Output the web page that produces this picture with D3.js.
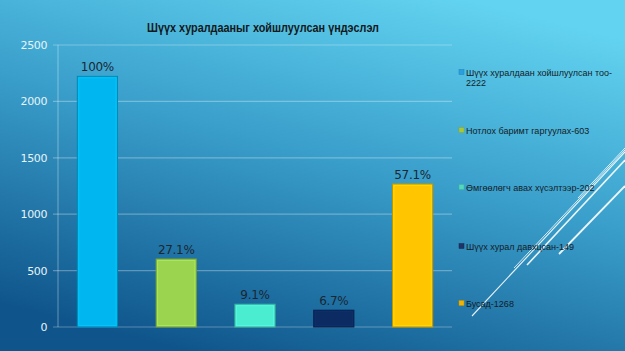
<!DOCTYPE html>
<html>
<head>
<meta charset="utf-8">
<script src="https://cdn.jsdelivr.net/npm/d3@7"></script>
<style>
  body { margin: 0; padding: 0; overflow: hidden; }
</style>
</head>
<body>
<div id="chart"></div>
<script>
var categories = ["Шүүх хуралдаан хойшлуулсан тоо", "Нотлох баримт гаргуулах", "Өмгөөлөгч авах хүсэлтээр", "Шүүх хурал давхцсан", "Бусад"];
var values = [2222, 603, 202, 149, 1268];
var percentLabels = ["100%", "27.1%", "9.1%", "6.7%", "57.1%"];
var yTicks = [0, 500, 1000, 1500, 2000, 2500];
var colors = ["#00b6f1", "#9bd44f", "#4bedd0", "#0c2b63", "#ffc600"];
var legendColors = ["#2a9fe0", "#a6c93c", "#53d8c0", "#1d3566", "#f2b400"];
var title = "Шүүх хуралдааныг хойшлуулсан үндэслэл";

var w = 625, h = 351;

var svg = d3.select("#chart").append("svg")
    .attr("width", w)
    .attr("height", h);

var defs = svg.append("defs");
var bg = defs.append("linearGradient")
    .attr("id", "bg")
    .attr("x1", "0.75").attr("y1", "0")
    .attr("x2", "0.3").attr("y2", "1");
bg.append("stop").attr("offset", "0").attr("stop-color", "#62d3f0");
bg.append("stop").attr("offset", "0.45").attr("stop-color", "#3a9fcb");
bg.append("stop").attr("offset", "1").attr("stop-color", "#0f558b");

svg.append("rect")
    .attr("width", w).attr("height", h)
    .attr("fill", "url(#bg)");

// decorative lines bottom right
var deco = [
    { x1: 472, y1: 316, x2: 625, y2: 152, sw: 1.1 },
    { x1: 527, y1: 265, x2: 625, y2: 160, sw: 1.6 },
    { x1: 514, y1: 268, x2: 625, y2: 150, sw: 0.9 },
    { x1: 559, y1: 254, x2: 625, y2: 186, sw: 1.8 },
    { x1: 578, y1: 198, x2: 625, y2: 148, sw: 0.9 }
];
svg.selectAll(".deco").data(deco).enter().append("line")
    .attr("class", "deco")
    .attr("x1", d => d.x1).attr("y1", d => d.y1)
    .attr("x2", d => d.x2).attr("y2", d => d.y2)
    .attr("stroke", "rgba(255,255,255,0.9)")
    .attr("stroke-width", d => d.sw);

var x = d3.scaleBand()
    .domain(d3.range(values.length))
    .range([58, 452])
    .paddingInner(0.49)
    .paddingOuter(0.245);

var y = d3.scaleLinear()
    .domain([0, 2500])
    .range([327, 45]);

// gridlines
svg.append("g")
    .selectAll("line")
    .data(yTicks)
    .enter().append("line")
    .attr("x1", 53).attr("x2", 452)
    .attr("y1", d => y(d)).attr("y2", d => y(d))
    .attr("stroke", "rgba(255,255,255,0.3)")
    .attr("stroke-width", 1.2);

svg.append("line")
    .attr("x1", 58).attr("x2", 58)
    .attr("y1", y(2500)).attr("y2", y(0))
    .attr("stroke", "rgba(255,255,255,0.3)")
    .attr("stroke-width", 1.2);

svg.append("g")
    .selectAll("text")
    .data(yTicks)
    .enter().append("text")
    .attr("x", 47)
    .attr("y", d => y(d) + 4)
    .attr("text-anchor", "end")
    .attr("font-family", "DejaVu Sans")
    .attr("font-size", 11)
    .attr("letter-spacing", -0.4)
    .attr("fill", "#e6f4fa")
    .text(d => d);

// bars with bevel
var bars = svg.append("g").selectAll("g")
    .data(values)
    .enter().append("g");

bars.append("rect")
    .attr("x", (d, i) => x(i))
    .attr("y", d => y(d))
    .attr("width", x.bandwidth())
    .attr("height", d => y(0) - y(d))
    .attr("fill", (d, i) => colors[i])
    .attr("stroke", (d, i) => d3.color(colors[i]).darker(0.8))
    .attr("stroke-width", 1);

bars.append("rect")
    .attr("x", (d, i) => x(i) + 1.5)
    .attr("y", d => y(d) + 1.5)
    .attr("width", x.bandwidth() - 3)
    .attr("height", d => y(0) - y(d) - 3)
    .attr("fill", "none")
    .attr("stroke", (d, i) => d3.color(colors[i]).brighter(0.4))
    .attr("stroke-opacity", 0.6)
    .attr("stroke-width", 1);

bars.append("text")
    .attr("x", (d, i) => x(i) + x.bandwidth() / 2)
    .attr("y", d => y(d) - 5)
    .attr("text-anchor", "middle")
    .attr("font-family", "DejaVu Sans")
    .attr("font-size", 12)
    .attr("letter-spacing", -0.3)
    .attr("fill", "#1a2733")
    .text((d, i) => percentLabels[i]);

// title, squeezed like the original narrow bold face
svg.append("text")
    .attr("x", 147)
    .attr("y", 32)
    .attr("font-family", "Liberation Sans, Arial")
    .attr("font-weight", "bold")
    .attr("font-size", 13)
    .attr("textLength", 232)
    .attr("lengthAdjust", "spacingAndGlyphs")
    .attr("fill", "#111820")
    .text(title);

// legend
var legendY = [72, 130, 187, 246, 303];
var legend = svg.append("g");
categories.forEach((c, i) => {
    legend.append("rect")
        .attr("x", 459)
        .attr("y", legendY[i] - 2.5)
        .attr("width", 5)
        .attr("height", 5)
        .attr("fill", legendColors[i])
        .attr("stroke", d3.color(legendColors[i]).darker(0.6))
        .attr("stroke-width", 0.5);

    var label = c + "-" + values[i];
    var t = legend.append("text")
        .attr("x", 466)
        .attr("y", legendY[i] + 3.5)
        .attr("font-family", "Liberation Sans, Arial")
        .attr("font-size", 9)
        .attr("fill", "#141c28");
    var lines = label.length > 30 ? [c + "-", String(values[i])] : [label];
    lines.forEach((ln, j) => {
        t.append("tspan")
            .attr("x", 466)
            .attr("dy", j ? 10.5 : 0)
            .text(ln);
    });
});
</script>
</body>
</html>
